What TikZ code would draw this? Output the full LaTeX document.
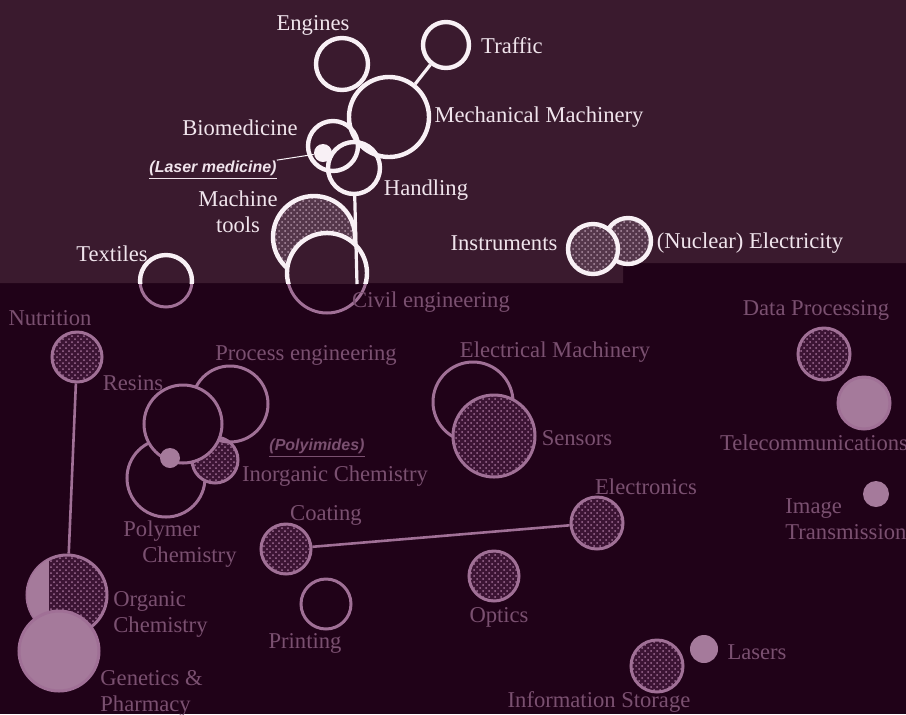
\documentclass[tikz,border=0pt]{standalone}
\usepackage{fontspec}
\setmainfont{Liberation Serif}
\newfontfamily\labsans{Liberation Sans}
\usetikzlibrary{patterns}
\definecolor{topbg}{RGB}{58,26,46}
\definecolor{botbg}{RGB}{32,2,24}
\definecolor{topline}{RGB}{248,240,245}
\definecolor{toptext}{RGB}{240,228,236}
\definecolor{botline}{RGB}{160,112,150}
\definecolor{bottext}{RGB}{122,80,112}
\definecolor{tophatch}{RGB}{85,55,75}
\definecolor{tophatchdot}{RGB}{175,145,165}
\definecolor{bothatch}{RGB}{60,20,52}
\definecolor{bothatchdot}{RGB}{160,110,150}
\definecolor{botfill}{RGB}{165,122,155}
\tikzstyle{topring}    = [circle, draw=topline, line width=2.2pt, inner sep=0pt]
\tikzstyle{botring}    = [circle, draw=botline, line width=1.5pt, inner sep=0pt]
\tikzstyle{tophatched} = [preaction={fill=tophatch}, pattern=crosshatch dots, pattern color=tophatchdot]
\tikzstyle{bothatched} = [preaction={fill=bothatch}, pattern=crosshatch dots, pattern color=bothatchdot]
\tikzstyle{blob}       = [circle, fill=botfill, inner sep=0pt]
\tikzstyle{toplabel}   = [text=toptext, inner sep=0pt, font=\fontsize{11.3}{13}\selectfont]
\tikzstyle{botlabel}   = [text=bottext, inner sep=0pt, font=\fontsize{11.3}{13}\selectfont]
\tikzstyle{notelabel}  = [inner sep=0pt, font=\labsans\bfseries\itshape\fontsize{8}{10}\selectfont]
\tikzstyle{topwire}    = [draw=topline, line width=1.6pt]
\tikzstyle{botwire}    = [draw=botline, line width=1.3pt]
\begin{document}
\begin{tikzpicture}[x=0.5pt, y=-0.5pt]
  \useasboundingbox (0,0) rectangle (906,714);
  \fill[botbg] (0,0) rectangle (906,714);
  \fill[topbg] (0,0) -- (906,0) -- (906,263) -- (623,263) -- (623,283) -- (0,283) -- cycle;

  % upper part
  \node (engines)     [topring, minimum size=26pt] at (342,64) {};
  \node (traffic)     [topring, minimum size=23pt] at (446,45) {};
  \node (mech)        [topring, minimum size=40pt] at (389,117) {};
  \node (biomed)      [topring, minimum size=25pt] at (333,146) {};
  \node (handling)    [topring, minimum size=26pt] at (354,168) {};
  \node (laserdot)    [circle, fill=topline, inner sep=0pt, minimum size=9pt] at (323,153) {};
  \node (machtools)   [topring, tophatched, minimum size=41pt] at (314,237) {};
  \node (nuclear)     [topring, tophatched, minimum size=23pt] at (628,241) {};
  \node (instruments) [topring, tophatched, minimum size=25pt] at (593,249) {};

  % lower part
  \node (textiles)    [botring, minimum size=26pt] at (166,281) {};
  \node (civil)       [botring, fill=botbg, minimum size=40pt] at (327,273) {};
  \node (nutrition)   [botring, bothatched, minimum size=25pt] at (77,357) {};
  \node (polymer)     [botring, minimum size=39pt] at (166,478) {};
  \node (polyimides)  [botring, bothatched, minimum size=23pt] at (215,460) {};
  \node (process)     [botring, minimum size=38pt] at (230,404) {};
  \node (resins)      [botring, fill=botbg, minimum size=39pt] at (183,424) {};
  \node (resindot)    [blob, minimum size=10pt] at (170,458) {};
  \node (elmach)      [botring, minimum size=40pt] at (473,402) {};
  \node (sensors)     [botring, bothatched, minimum size=41pt] at (494,436) {};
  \node (dataproc)    [botring, bothatched, minimum size=26pt] at (824,354) {};
  \node (telecom)     [botring, fill=botfill, minimum size=26pt] at (864,403) {};
  \node (imagetr)     [blob, minimum size=13pt] at (876,494) {};
  \node (electronics) [botring, bothatched, minimum size=26pt] at (597,523) {};
  \node (coating)     [botring, bothatched, minimum size=25pt] at (286,549) {};
  \node (printing)    [botring, minimum size=25pt] at (326,604) {};
  \node (optics)      [botring, bothatched, minimum size=25pt] at (494,576) {};
  \node (organic)     [botring, bothatched, minimum size=40pt] at (67,595) {};
  \begin{scope}
    \clip (organic.center) circle [radius=20pt];
    \fill[botfill] (0,540) rectangle (49,660);
  \end{scope}
  \node (genetics)    [botring, fill=botfill, minimum size=40pt] at (59,651) {};
  \node (infostore)   [botring, bothatched, minimum size=26pt] at (657,666) {};
  \node (lasers)      [blob, minimum size=14pt] at (704,649) {};

  % circles cut by the edge of the upper part
  \begin{scope}
    \clip (0,0) rectangle (623,283);
    \draw[topline, line width=2.2pt, fill=topbg] (civil.center) circle [radius=20pt];
    \draw[topline, line width=2.2pt] (textiles.center) circle [radius=13pt];
  \end{scope}
  \coordinate (civilpin) at (357,284);

  \draw [topwire] (mech) -- (traffic);
  \draw [topwire] (handling) -- (civilpin);
  \draw [botwire] (nutrition) -- (organic);
  \draw [botwire] (coating) -- (electronics);

  % labels
  \node (lengines)  [toplabel] at (313,25)  {Engines};
  \node (ltraffic)  [toplabel] at (512,46)  {Traffic};
  \node (lmech)     [toplabel] at (539,117) {Mechanical Machinery};
  \node (lbiomed)   [toplabel] at (240,128) {Biomedicine};
  \node (llasermed) [notelabel, text=toptext] at (213,170) {\underline{(Laser medicine)}};
  \node (lhandling) [toplabel] at (426,190) {Handling};
  \node (lmachtools) [toplabel, align=center] at (238,212) {Machine\\tools};
  \node (ltextiles) [toplabel] at (112,254) {Textiles};
  \node (linstr)    [toplabel] at (504,243) {Instruments};
  \node (lnuclear)  [toplabel] at (750,243) {(Nuclear) Electricity};
  \draw [draw=topline!70, line width=0.5pt] (llasermed) -- (laserdot);

  \node (lcivil)    [botlabel] at (431,302) {Civil engineering};
  \node (lnutrition) [botlabel] at (50,318) {Nutrition};
  \node (lprocess)  [botlabel] at (306,355) {Process engineering};
  \node (lresins)   [botlabel] at (133,383) {Resins};
  \node (lpolyimides) [notelabel, text=bottext] at (317,448) {\underline{(Polyimides)}};
  \node (linorganic) [botlabel] at (335,476) {Inorganic Chemistry};
  \node (lpolymer)  [botlabel, align=left, anchor=west] at (123,544) {Polymer\\\hspace*{9.5pt}Chemistry};
  \node (lelmach)   [botlabel] at (555,352) {Electrical Machinery};
  \node (lsensors)  [botlabel] at (577,438) {Sensors};
  \node (ldataproc) [botlabel] at (816,310) {Data Processing};
  \node (ltelecom)  [botlabel] at (814,443) {Telecommunications};
  \node (limagetr)  [botlabel, align=left, anchor=west] at (785,519) {Image\\Transmission};
  \node (lelectronics) [botlabel] at (646,487) {Electronics};
  \node (lcoating)  [botlabel] at (326,515) {Coating};
  \node (lprinting) [botlabel] at (305,643) {Printing};
  \node (loptics)   [botlabel] at (499,617) {Optics};
  \node (lorganic)  [botlabel, align=left, anchor=west] at (113,614) {Organic\\Chemistry};
  \node (lgenetics) [botlabel, align=left, anchor=west] at (100,693) {Genetics \&\\Pharmacy};
  \node (linfostore) [botlabel] at (599,702) {Information Storage};
  \node (llasers)   [botlabel] at (757,652) {Lasers};
\end{tikzpicture}
\end{document}
